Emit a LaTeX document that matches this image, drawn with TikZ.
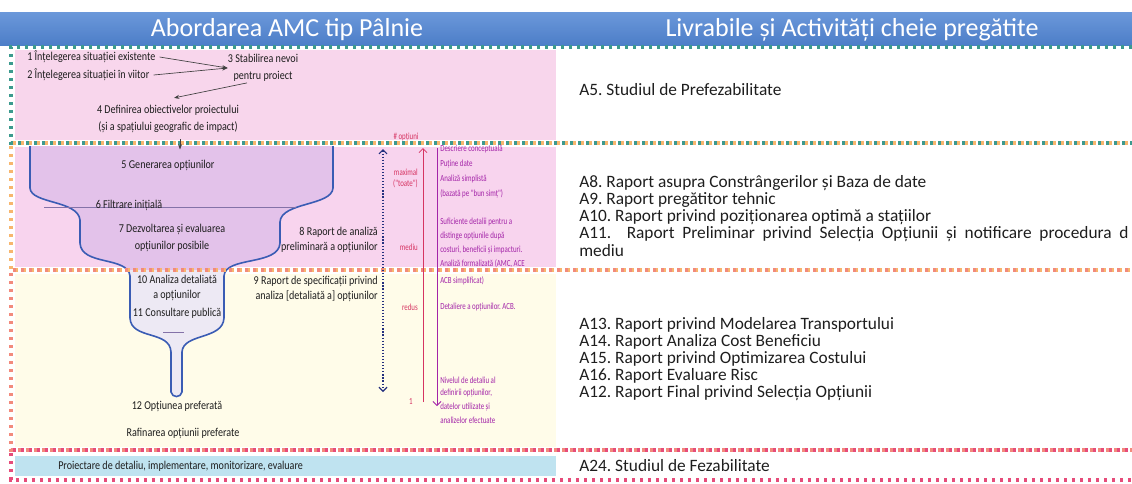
\documentclass[tikz,border=0pt]{standalone}
\usepackage{fontspec}
\setmainfont{Carlito}
\newfontfamily\condf[FakeStretch=0.84]{Carlito}
\newfontfamily\condxf[FakeStretch=0.74]{Carlito}
\usetikzlibrary{arrows.meta}
\frenchspacing
\definecolor{hdrtop}{HTML}{6B98DA}
\definecolor{hdrbot}{HTML}{4D7EC8}
\definecolor{pinkA}{HTML}{F8D6EC}
\definecolor{pinkB}{HTML}{F8D4EE}
\definecolor{creamC}{HTML}{FFFCE9}
\definecolor{blueD}{HTML}{BFE3F0}
\definecolor{funnelfill}{HTML}{E3C2EA}
\definecolor{neckfill}{HTML}{EDE9F4}
\definecolor{funnelline}{HTML}{3A5CB4}
\definecolor{grn}{HTML}{3C9A8E}
\definecolor{org}{HTML}{F7B66E}
\definecolor{sal}{HTML}{F28A7C}
\definecolor{rdp}{HTML}{E64C7A}
\definecolor{purp}{HTML}{A324A8}
\definecolor{redl}{HTML}{D63462}
\definecolor{navy}{HTML}{24307E}
\definecolor{txt}{HTML}{1E1E1E}
\definecolor{filt}{HTML}{8472A8}
\tikzset{
  lt/.style={font=\condf\fontsize{9}{12.75}\selectfont, text=txt, inner sep=0pt},
  ltn/.style={font=\condf\fontsize{9}{11.25}\selectfont, text=txt, inner sep=0pt},
  ptx/.style={font=\condxf\fontsize{7}{10}\selectfont, text=purp, inner sep=0pt, anchor=west},
  rtx/.style={font=\condxf\fontsize{7}{9}\selectfont, text=redl, inner sep=0pt},
  deliv/.style={font=\fontsize{13}{12.75}\selectfont, text=txt, anchor=west, inner sep=0pt, align=left},
  hdr/.style={font=\fontsize{19.5}{22}\selectfont, text=white, inner sep=0pt},
  brd/.style={line width=2.3pt, dash pattern=on 2.3pt off 3.7pt},
  arr/.style={draw=txt!85, line width=0.5pt, -{Stealth[length=4pt,width=3pt]}},
  fnl/.style={draw=funnelline, line width=1.2pt}
}
\begin{document}
\begin{tikzpicture}[x=0.75pt,y=-0.75pt]
\useasboundingbox (0,0) rectangle (1132,483);
\fill[white] (0,0) rectangle (1132,483);
% header
\shade[top color=hdrtop, bottom color=hdrbot] (0,12) rectangle (1132,45);
\node[hdr] (hl) at (287,30) {Abordarea AMC tip Pâlnie};
\node[hdr] (hr) at (852,30) {Livrabile și Activități cheie pregătite};
% section backgrounds
\fill[pinkA] (15,50) rectangle (556,140);
\fill[pinkB] (15,147) rectangle (556,267);
\fill[creamC] (15,274) rectangle (556,447);
\fill[blueD] (15,456) rectangle (556,476);
% funnel
\path[save path=\fnlp] (30,146) -- (30,188) .. controls (31,204) and (78,200) .. (80,220)
  -- (80,243) .. controls (81,266) and (128,256) .. (130,276)
  -- (130,318) .. controls (131,340) and (170,330) .. (171,352)
  -- (171,392) .. controls (172,398) and (181,398) .. (182,392)
  -- (182,352) .. controls (183,333) and (223,340) .. (224,318)
  -- (224,276) .. controls (225,256) and (279,266) .. (280,243)
  -- (280,222) .. controls (281,202) and (332,206) .. (333,188) -- (333,146);
\begin{scope}
  \clip (0,0) rectangle (1132,270);
  \fill[funnelfill, use path=\fnlp];
\end{scope}
\begin{scope}
  \clip (0,270) rectangle (1132,483);
  \fill[neckfill, use path=\fnlp];
\end{scope}
\draw[fnl, use path=\fnlp];
\draw[filt, line width=0.6pt] (44,207) -- (296,207);
\draw[filt, line width=0.5pt] (163,332) -- (184,332);
% borders
\draw[brd, grn] (1132,47) -- (11,47) -- (11,143) -- (1132,143);
\draw[brd, org, dash phase=3pt] (1132,143) -- (11,143) -- (11,270) -- (1132,270);
\draw[brd, sal, dash phase=3pt] (1132,270) -- (11,270) -- (11,450) -- (1132,450);
\draw[brd, rdp, dash phase=3pt] (1132,450) -- (11,450) -- (11,480) -- (1132,480);
% section 1 texts
\node[lt, anchor=west] (s1) at (27,57) {1 Înțelegerea situației existente};
\node[lt, anchor=west] (s2) at (27,75) {2 Înțelegerea situației în viitor};
\node[lt, align=center] (s3) at (263,68) {3 Stabilirea nevoi\\pentru proiect};
\node[lt, align=center] (s4) at (168,119) {4 Definirea obiectivelor proiectului\\(și a spațiului geografic de impact)};
\draw[arr] (s1.east) ++(4,0) -- (s3.west);
\draw[arr] (s2.east) ++(4,0) -- (s3.west);
\draw[arr] (s3.south) ++(-16,1) -- ++(-73,15);
% section 2
\node[lt] (s5) at (168,165) {5 Generarea opțiunilor};
\draw[arr] (s5.north) ++(12,-20) -- ++(0,10);
\node[lt] (s6) at (129,205) {6 Filtrare inițială};
\node[lt, align=center] (s7) at (172,238) {7 Dezvoltarea și evaluarea\\opțiunilor posibile};
\node[ltn, align=right, anchor=east] (s8) at (378,240) {8 Raport de analiză\\preliminară a opțiunilor};
% section 3
\node[ltn, align=center] (s10) at (177,288) {10 Analiza detaliată\\a opțiunilor};
\node[lt] (s11) at (177,313) {11 Consultare publică};
\node[ltn, align=right, anchor=east] (s9) at (378,289) {9 Raport de specificații privind\\analiza [detaliată a] opțiunilor};
\node[lt] (s12) at (177,406) {12 Opțiunea preferată};
\node[lt] (s13) at (183,433) {Rafinarea opțiunii preferate};
\node[lt, anchor=west] (s14) at (58,466) {Proiectare de detaliu, implementare, monitorizare, evaluare};
% scale axes
\coordinate (dtop) at (383,149);
\coordinate (dbot) at (383,392);
\coordinate (rtop) at (423,148);
\coordinate (rbot) at (423,402);
\coordinate (ptop) at (437,148);
\coordinate (pbot) at (437,406);
\draw[navy, line width=0.9pt, dash pattern=on 0.9pt off 1.4pt, {Straight Barb[length=3pt]}-{Straight Barb[length=3pt]}] (dtop) -- (dbot);
\draw[redl, line width=0.6pt, -{Straight Barb[length=3pt]}] (rbot) -- (rtop);
\draw[purp, line width=0.6pt, -{Straight Barb[length=3pt]}] (ptop) -- (pbot);
\node[rtx] (lop) at (406,137) {\# opțiuni};
\node[rtx, anchor=east] (lmax) at (418,172) {maximal};
\node[rtx, anchor=east] (ltoate) at (418,184) {("toate")};
\node[rtx, anchor=east] (lmed) at (418,247) {mediu};
\node[rtx, anchor=east] (lred) at (418,307) {redus};
\node[rtx, anchor=east] (lone) at (413,401) {1};
% purple descriptions
\node[ptx] (p1) at (440,149) {Descriere conceptuală};
\node[ptx] (p2) at (440,164) {Puține date};
\node[ptx] (p3) at (440,179) {Analiză simplistă};
\node[ptx] (p4) at (440,194) {(bazată pe "bun simț")};
\node[ptx] (p5) at (440,222) {Suficiente detalii pentru a};
\node[ptx] (p6) at (440,236) {distinge opțiunile după};
\node[ptx] (p7) at (440,250) {costuri, beneficii și impacturi.};
\node[ptx] (p8) at (440,264) {Analiză formalizată (AMC, ACE};
\node[ptx] (p9) at (440,281) {ACB simplificat)};
\node[ptx] (p10) at (440,307) {Detaliere a opțiunilor. ACB.};
\node[ptx] (p11) at (440,380) {Nivelul de detaliu al};
\node[ptx] (p12) at (440,393.5) {definirii opțiunilor,};
\node[ptx] (p13) at (440,407) {datelor utilizate și};
\node[ptx] (p14) at (440,420.5) {analizelor efectuate};
% deliverables
\node[deliv] (d5) at (579,90) {A5. Studiul de Prefezabilitate};
\node[deliv] (d8) at (579,183) {A8. Raport asupra Constrângerilor și Baza de date};
\node[deliv] (d9) at (579,200) {A9. Raport pregătitor tehnic};
\node[deliv] (d10) at (579,217) {A10. Raport privind poziționarea optimă a stațiilor};
\node[deliv] (d11) at (579,234) {\makebox[412pt][s]{A11.\ \ Raport Preliminar privind Selecția Opțiunii și notificare procedura d}};
\node[deliv] (d11b) at (579,251) {mediu};
\node[deliv] (d13) at (579,325) {A13. Raport privind Modelarea Transportului};
\node[deliv] (d14) at (579,342) {A14. Raport Analiza Cost Beneficiu};
\node[deliv] (d15) at (579,359) {A15. Raport privind Optimizarea Costului};
\node[deliv] (d16) at (579,376) {A16. Raport Evaluare Risc};
\node[deliv] (d12) at (579,393) {A12. Raport Final privind Selecția Opțiunii};
\node[deliv] (d24) at (579,466) {A24. Studiul de Fezabilitate};
\end{tikzpicture}
\end{document}
